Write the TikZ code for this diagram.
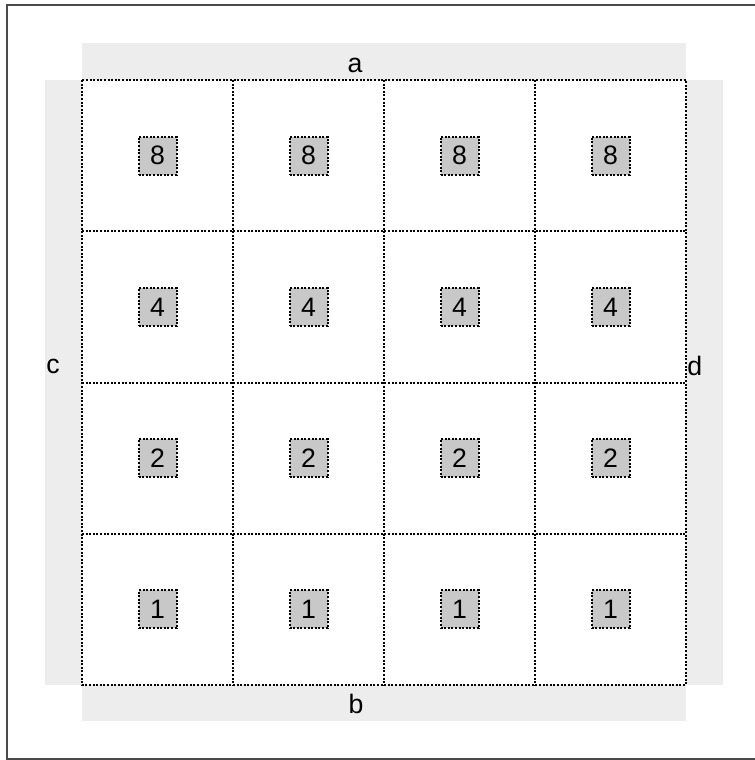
\documentclass[tikz,border=0pt]{standalone}
\usepackage{fontspec}
\setmainfont{Liberation Sans}
\definecolor{bandgray}{HTML}{EDEDED}
\definecolor{boxgray}{HTML}{C8C8C8}
\definecolor{framegray}{HTML}{4A4A4A}
\tikzset{
  dots/.style={line width=1.5pt, dash pattern=on 1.5pt off 1.2pt},
  numbox/.style={draw, dots, fill=boxgray, minimum size=28.5pt, inner sep=0pt},
  side/.style={inner sep=0pt}
}
\begin{document}
\begin{tikzpicture}[x=0.75pt, y=-0.75pt, font=\fontsize{20}{22}\selectfont]
\useasboundingbox (0,0) rectangle (754,760);
\draw[framegray, line width=1.5pt] (770,5) -- (6.5,5) -- (6.5,759) -- (770,759);
\fill[bandgray] (82,43) rectangle (686,80);
\fill[bandgray] (82,685) rectangle (686,721);
\fill[bandgray] (45,80) rectangle (82,685);
\fill[bandgray] (686,80) rectangle (723,685);
\node[side] (a) at (355,65) {a};
\node[side] (b) at (356,704) {b};
\node[side, anchor=west] (c) at (46,366) {c};
\node[side, anchor=west] (d) at (687,366) {d};
\draw[dots] (82,80) rectangle (686,685);
\foreach \x in {233,384,535}
  \draw[dots] (\x,80) -- (\x,685);
\foreach \y in {231.25,382.5,533.75}
  \draw[dots] (82,\y) -- (686,\y);
\foreach \v [count=\r] in {8,4,2,1}
  \foreach \c in {1,...,4}
    \node[numbox] (n-\r-\c) at ({82+151*(\c-0.5)},{80+151.25*(\r-0.5)}) {\v};
\end{tikzpicture}
\end{document}
